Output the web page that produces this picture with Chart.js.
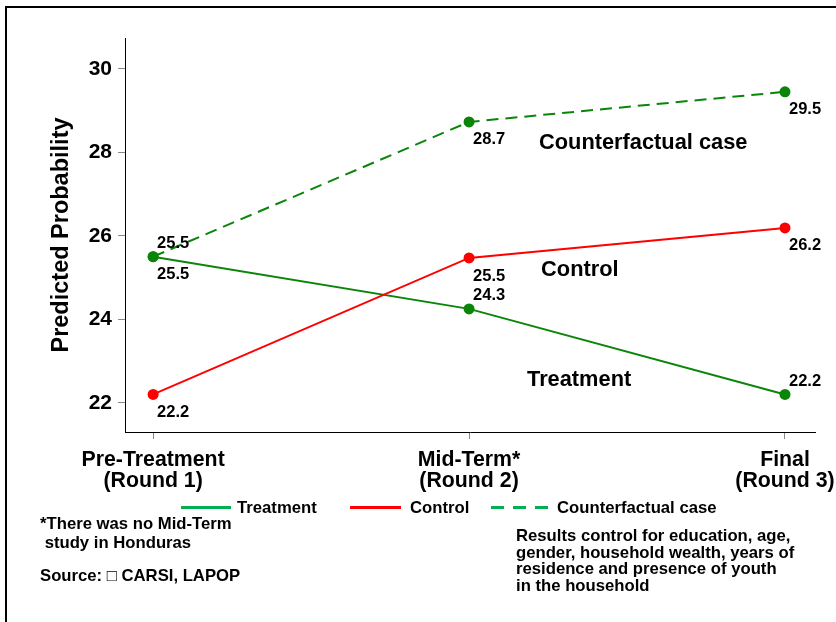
<!DOCTYPE html>
<html>
<head>
<meta charset="utf-8">
<script src="https://cdn.jsdelivr.net/npm/chart.js@4/dist/chart.umd.min.js"></script>
<style>
  body { margin: 0; background: #fff; }
  #wrap { position: relative; width: 836px; height: 622px; overflow: hidden; font-family: "Liberation Sans", Arial, sans-serif; font-weight: bold; }
  #frame { position: absolute; left: 5px; top: 6px; width: 900px; height: 700px; border-top: 2px solid #000; border-left: 2px solid #000; }
  canvas { position: absolute; left: 0; top: 0; }
  .txt { position: absolute; font-size: 16.7px; color: #000; white-space: pre; }
  .key { position: absolute; height: 3px; }
</style>
</head>
<body>
<div id="wrap">
  <div id="frame"></div>
  <canvas id="chart" width="836" height="622"></canvas>

  <div class="key" style="left:181px; top:506px; width:50px; background:#00b050;"></div>
  <div class="txt" style="left:237px; top:498px;">Treatment</div>
  <div class="key" style="left:350px; top:506px; width:51px; background:#ff0000;"></div>
  <div class="txt" style="left:410px; top:498px;">Control</div>
  <div class="key" style="left:491px; top:506px; width:58px; background:repeating-linear-gradient(90deg,#00b050 0 13px,transparent 13px 22px);"></div>
  <div class="txt" style="left:557px; top:498px;">Counterfactual case</div>

  <div class="txt" style="left:40px; top:514px; line-height:19px;">*There was no Mid-Term
 study in Honduras</div>
  <div class="txt" style="left:40px; top:566px;">Source: □ CARSI, LAPOP</div>
  <div class="txt" style="left:516px; top:528px; line-height:16.5px;">Results control for education, age,
gender, household wealth, years of
residence and presence of youth
in the household</div>
</div>
<script>
// rounds on the x axis
const categories = [['Pre-Treatment', '(Round 1)'], ['Mid-Term*', '(Round 2)'], ['Final', '(Round 3)']];
const yTicks = [22, 24, 26, 28, 30];

// predicted probability per round
const treatment = [25.5, 24.25, 22.2];
const control = [22.2, 25.47, 26.19];
const counterfactual = [25.5, 28.73, 29.45];

// printed values next to the points
const treatmentLabels = ['25.5', '24.3', '22.2'];
const controlLabels = ['22.2', '25.5', '26.2'];
const counterfactualLabels = ['25.5', '28.7', '29.5'];

// in-plot series names
const seriesNotes = [
    { text: 'Counterfactual case', x: 1.2215, y: 28.23 },
    { text: 'Control', x: 1.228, y: 25.19 },
    { text: 'Treatment', x: 1.1835, y: 22.55 }
];

const GREEN = '#0a850a';
const RED = '#ff0000';
const FONT = '"Liberation Sans", Arial, sans-serif';

function toPoints(arr) {
    return arr.map((v, i) => ({ x: i, y: v }));
}

const valueLabels = {
    id: 'valueLabels',
    afterDatasetsDraw(chart) {
        const ctx = chart.ctx;
        ctx.save();
        ctx.font = 'bold 16.5px ' + FONT;
        ctx.fillStyle = '#000';
        ctx.textAlign = 'left';
        ctx.textBaseline = 'middle';
        chart.data.datasets.forEach((ds, di) => {
            const meta = chart.getDatasetMeta(di);
            meta.data.forEach((pt, i) => {
                const dy = ds.labelSide[i] === 'above' ? -13 : 18;
                ctx.fillText(ds.valueText[i], pt.x + 4, pt.y + dy);
            });
        });
        ctx.font = 'bold 21.8px ' + FONT;
        seriesNotes.forEach(n => {
            ctx.fillText(n.text, chart.scales.x.getPixelForValue(n.x), chart.scales.y.getPixelForValue(n.y));
        });
        ctx.restore();
    }
};

new Chart(document.getElementById('chart').getContext('2d'), {
    type: 'line',
    data: {
        datasets: [
            {
                label: 'Counterfactual case',
                data: toPoints(counterfactual),
                valueText: counterfactualLabels,
                labelSide: ['above', 'below', 'below'],
                borderColor: GREEN,
                backgroundColor: GREEN,
                borderWidth: 2,
                borderDash: [12, 7],
                pointRadius: 5.5,
                pointBorderWidth: 0
            },
            {
                label: 'Control',
                data: toPoints(control),
                valueText: controlLabels,
                labelSide: ['below', 'below', 'below'],
                borderColor: RED,
                backgroundColor: RED,
                borderWidth: 2,
                pointRadius: 5.5,
                pointBorderWidth: 0
            },
            {
                label: 'Treatment',
                data: toPoints(treatment),
                valueText: treatmentLabels,
                labelSide: ['below', 'above', 'above'],
                borderColor: GREEN,
                backgroundColor: GREEN,
                borderWidth: 2,
                pointRadius: 5.5,
                pointBorderWidth: 0
            }
        ]
    },
    options: {
        responsive: false,
        animation: false,
        layout: { padding: { left: 0, top: 38, right: 21, bottom: 0 } },
        plugins: {
            legend: { display: false },
            tooltip: { enabled: false }
        },
        scales: {
            x: {
                type: 'linear',
                min: -0.089,
                max: 2.095,
                afterBuildTicks: s => { s.ticks = categories.map((c, i) => ({ value: i })); },
                afterFit: s => { s.height = 190; s.paddingLeft = 0; s.paddingRight = 0; },
                grid: { drawOnChartArea: false, tickLength: 7, color: '#888' },
                border: { color: '#000', width: 1 },
                ticks: {
                    maxRotation: 0,
                    autoSkip: false,
                    padding: 10,
                    color: '#000',
                    font: { family: FONT, size: 21.3, weight: 'bold', lineHeight: 1.0 },
                    callback: v => categories[v]
                }
            },
            y: {
                min: 21.3,
                max: 30.74,
                afterBuildTicks: s => { s.ticks = yTicks.map(v => ({ value: v })); },
                afterFit: s => { s.width = 125; },
                grid: { drawOnChartArea: false, tickLength: 7, color: '#888' },
                border: { color: '#000', width: 1 },
                title: {
                    display: true,
                    text: 'Predicted Probability',
                    color: '#000',
                    font: { family: FONT, size: 23.5, weight: 'bold' },
                    padding: { top: 47, bottom: 0 }
                },
                ticks: {
                    padding: 6,
                    color: '#000',
                    font: { family: FONT, size: 21, weight: 'bold' }
                }
            }
        }
    },
    plugins: [valueLabels]
});
</script>
</body>
</html>
